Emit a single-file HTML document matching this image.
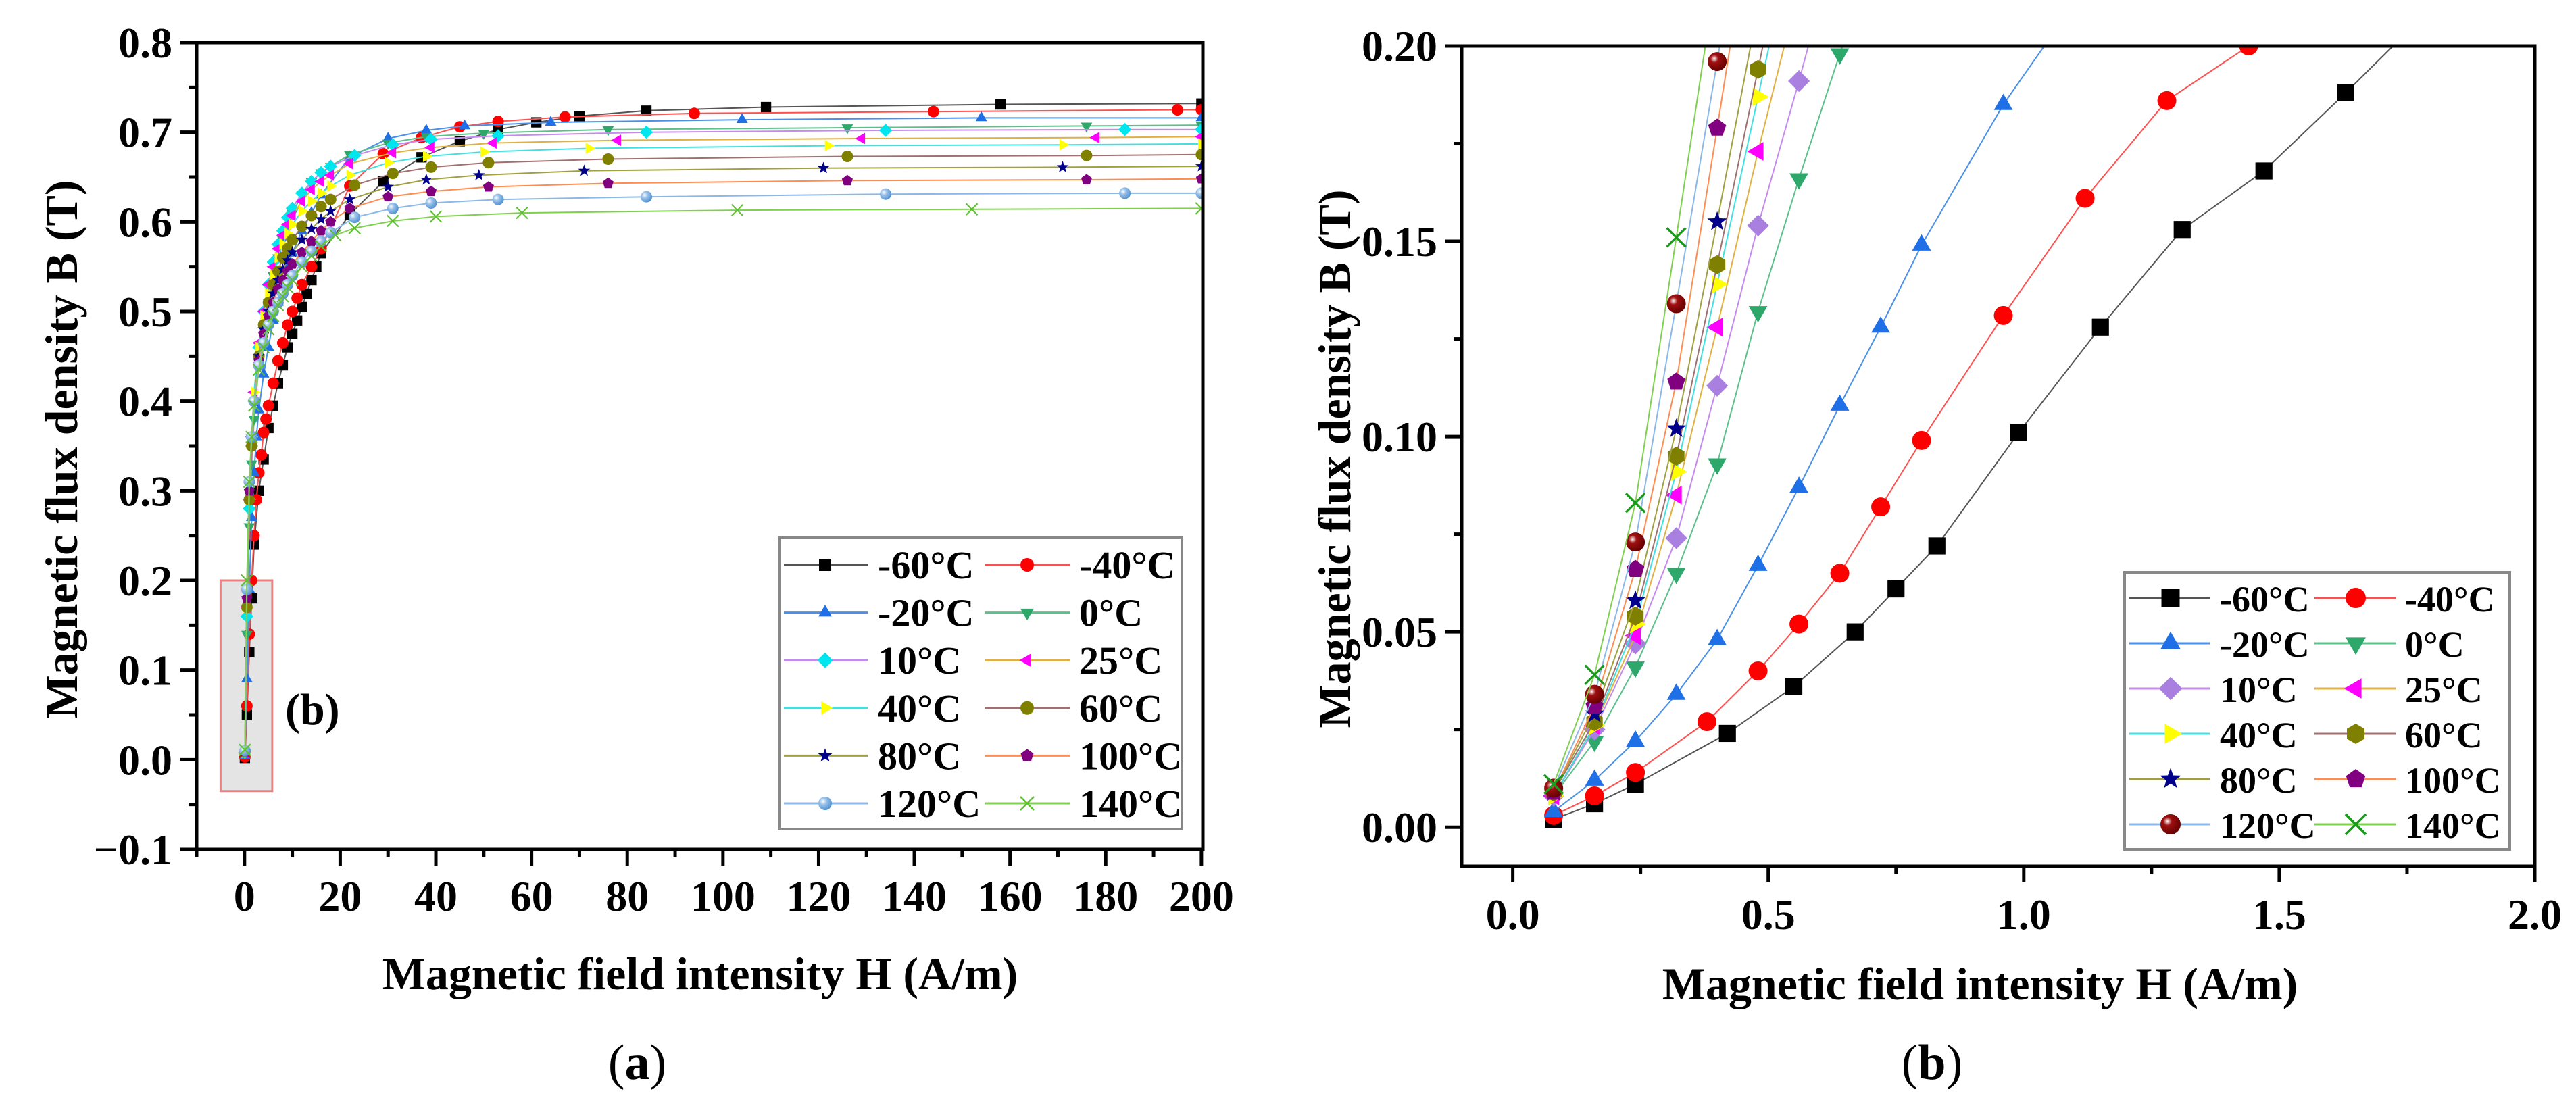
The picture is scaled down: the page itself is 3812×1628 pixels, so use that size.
<!DOCTYPE html>
<html><head><meta charset="utf-8">
<style>
html,body{margin:0;padding:0;background:#fff;}
svg{display:block;font-family:"Liberation Serif",serif;}
svg text{font-family:"Liberation Serif",serif;}
</style></head>
<body>
<svg id="fig" width="3812" height="1628" viewBox="0 0 3812 1628" xmlns="http://www.w3.org/2000/svg" font-family="Liberation Serif, serif">
<defs>
<clipPath id="clipA"><rect x="291" y="63" width="1489" height="1194"/></clipPath>
<clipPath id="clipB"><rect x="2163" y="68" width="1588" height="1214"/></clipPath>
<radialGradient id="sphA" cx="0.35" cy="0.35" r="0.7"><stop offset="0" stop-color="#fff"/><stop offset="0.35" stop-color="#9cc3ea"/><stop offset="1" stop-color="#4f8fd0"/></radialGradient>
<radialGradient id="sphB" cx="0.35" cy="0.35" r="0.7"><stop offset="0" stop-color="#fff"/><stop offset="0.3" stop-color="#a01010"/><stop offset="1" stop-color="#600000"/></radialGradient>
</defs>
<g id="chartA"></g>
<g id="chartB"></g>
<text x="943" y="1597" font-size="74" text-anchor="middle">(<tspan font-weight="bold">a</tspan>)</text>
<text x="2859" y="1597" font-size="74" text-anchor="middle">(<tspan font-weight="bold">b</tspan>)</text>
</svg>
<script>
// ---------- data ----------
const seriesNames = ["-60°C","-40°C","-20°C","0°C","10°C","25°C","40°C","60°C","80°C","100°C","120°C","140°C"];
// Panel (a)
const hA_m60 = [0.08,0.5,1,1.5,2,3,4,5,6,7,8,9,10,11,12,13,14,15,16,22,29,37,45,53,61,70,84,109,158,200];
const bA_m60 = [0.002,0.05,0.12,0.18,0.24,0.30,0.335,0.37,0.395,0.42,0.44,0.46,0.475,0.49,0.505,0.52,0.535,0.55,0.565,0.608,0.645,0.672,0.69,0.703,0.711,0.718,0.724,0.728,0.731,0.732];
const hA_m40 = [0.08,0.5,1,1.5,2,2.5,3,3.5,4,4.5,5,6,7,8,9,10,11,12,14,16,22,29,37,45,53,67,94,144,195,200];
const bA_m40 = [0.003,0.06,0.14,0.2,0.25,0.29,0.32,0.34,0.365,0.38,0.395,0.42,0.445,0.465,0.485,0.5,0.515,0.53,0.55,0.57,0.64,0.676,0.694,0.706,0.712,0.717,0.721,0.723,0.725,0.725];
const hA_m20 = [0.08,0.5,1,1.5,2,2.5,3,4,5,6,7,8,9,10,12,14,16,22,30,38,46,64,104,154,200];
const bA_m20 = [0.004,0.09,0.19,0.27,0.32,0.36,0.39,0.43,0.46,0.49,0.51,0.53,0.55,0.565,0.59,0.61,0.63,0.672,0.693,0.702,0.707,0.711,0.714,0.716,0.716];
const hA_0 = [0.08,0.5,1,1.5,2,3,4,5,6,7,8,9,10,12,14,16,18,22,30,38,50,76,126,176,200];
const bA_0 = [0.008,0.14,0.26,0.33,0.38,0.44,0.48,0.51,0.54,0.56,0.58,0.595,0.61,0.63,0.645,0.655,0.662,0.675,0.688,0.695,0.699,0.703,0.705,0.707,0.708];
const hA_10 = [0.08,0.5,1,1.5,2,3,4,5,6,7,8,9,10,12,14,16,18,23,31,39,53,84,134,184,200];
const bA_10 = [0.008,0.16,0.28,0.35,0.40,0.46,0.50,0.53,0.555,0.575,0.59,0.605,0.615,0.632,0.645,0.655,0.662,0.674,0.686,0.692,0.696,0.700,0.702,0.703,0.703];
const hA_25 = [0.08,0.5,1,1.5,2,3,4,5,6,7,8,9,10,12,14,16,18,22,31,39,52,78,129,178,200];
const bA_25 = [0.008,0.17,0.29,0.36,0.41,0.465,0.50,0.53,0.55,0.57,0.585,0.597,0.607,0.623,0.636,0.645,0.652,0.665,0.677,0.683,0.688,0.691,0.693,0.694,0.695];
const hA_40 = [0.08,0.5,1,1.5,2,3,4,5,6,7,8,9,10,12,14,16,18,22,30,38,50,72,122,171,200];
const bA_40 = [0.008,0.17,0.29,0.36,0.41,0.46,0.495,0.52,0.54,0.56,0.575,0.587,0.597,0.612,0.623,0.632,0.64,0.652,0.666,0.673,0.678,0.682,0.685,0.686,0.687];
const hA_60 = [0.08,0.5,1,1.5,2,3,4,5,6,7,8,9,10,12,14,16,18,23,31,39,51,76,126,176,200];
const bA_60 = [0.009,0.17,0.29,0.35,0.40,0.45,0.485,0.51,0.53,0.545,0.56,0.57,0.58,0.595,0.607,0.617,0.625,0.641,0.654,0.661,0.666,0.67,0.673,0.674,0.675];
const hA_80 = [0.08,0.5,1,1.5,2,3,4,5,6,7,8,9,10,12,14,16,18,22,30,38,49,71,121,171,200];
const bA_80 = [0.009,0.18,0.3,0.36,0.40,0.45,0.48,0.50,0.52,0.535,0.547,0.557,0.566,0.58,0.592,0.603,0.612,0.625,0.639,0.647,0.652,0.657,0.66,0.661,0.662];
const hA_100 = [0.08,0.5,1,1.5,2,3,4,5,6,7,8,9,10,12,14,16,18,22,30,39,51,76,126,176,200];
const bA_100 = [0.009,0.18,0.3,0.36,0.40,0.445,0.475,0.495,0.51,0.525,0.535,0.545,0.553,0.566,0.578,0.59,0.6,0.615,0.628,0.634,0.639,0.643,0.646,0.647,0.648];
const hA_120 = [0.08,0.5,1,1.5,2,3,4,5,6,7,8,9,10,12,14,16,18,23,31,39,53,84,134,184,200];
const bA_120 = [0.01,0.19,0.31,0.36,0.40,0.44,0.465,0.485,0.5,0.51,0.52,0.53,0.54,0.555,0.567,0.578,0.588,0.605,0.615,0.621,0.625,0.628,0.631,0.632,0.632];
const hA_140 = [0.08,0.5,1,1.5,2,3,4,5,6,7,8,9,10,12,14,16,19,23,31,40,58,103,152,200];
const bA_140 = [0.011,0.2,0.31,0.36,0.395,0.435,0.46,0.48,0.495,0.507,0.517,0.527,0.535,0.55,0.562,0.573,0.585,0.593,0.601,0.606,0.61,0.613,0.614,0.615];
// Panel (b)
const hB_m60 = [0.08,0.16,0.24,0.42,0.55,0.67,0.75,0.83,0.99,1.15,1.31,1.47,1.63,1.8];
const bB_m60 = [0.002,0.006,0.011,0.024,0.036,0.050,0.061,0.072,0.101,0.128,0.153,0.168,0.188,0.21];
const hB_m40 = [0.08,0.16,0.24,0.38,0.48,0.56,0.64,0.72,0.80,0.96,1.12,1.28,1.44,1.6];
const bB_m40 = [0.003,0.008,0.014,0.027,0.040,0.052,0.065,0.082,0.099,0.131,0.161,0.186,0.200,0.22];
const hB_m20 = [0.08,0.16,0.24,0.32,0.40,0.48,0.56,0.64,0.72,0.80,0.96,1.12];
const bB_m20 = [0.004,0.012,0.022,0.034,0.048,0.067,0.087,0.108,0.128,0.149,0.185,0.215];
const hB_0 = [0.08,0.16,0.24,0.32,0.40,0.48,0.56,0.64,0.72];
const bB_0 = [0.008,0.022,0.041,0.065,0.093,0.132,0.166,0.198,0.23];
const hB_10 = [0.08,0.16,0.24,0.32,0.40,0.48,0.56,0.64];
const bB_10 = [0.008,0.025,0.047,0.074,0.113,0.154,0.191,0.23];
const hB_25 = [0.08,0.16,0.24,0.32,0.40,0.48,0.56];
const bB_25 = [0.008,0.026,0.049,0.085,0.128,0.173,0.215];
const hB_40 = [0.08,0.16,0.24,0.32,0.40,0.48,0.56];
const bB_40 = [0.008,0.026,0.052,0.091,0.139,0.187,0.235];
const hB_60 = [0.08,0.16,0.24,0.32,0.40,0.48,0.56];
const bB_60 = [0.009,0.027,0.054,0.095,0.144,0.194,0.245];
const hB_80 = [0.08,0.16,0.24,0.32,0.40,0.48];
const bB_80 = [0.009,0.029,0.058,0.102,0.155,0.21];
const hB_100 = [0.08,0.16,0.24,0.32,0.40,0.48];
const bB_100 = [0.009,0.031,0.066,0.114,0.179,0.245];
const hB_120 = [0.08,0.16,0.24,0.32,0.40,0.48];
const bB_120 = [0.010,0.034,0.073,0.134,0.196,0.26];
const hB_140 = [0.08,0.16,0.24,0.32,0.40];
const bB_140 = [0.011,0.039,0.083,0.151,0.22];
// ticks
const xTicksA = [0,20,40,60,80,100,120,140,160,180,200];
const yTicksA = [-0.1,0.0,0.1,0.2,0.3,0.4,0.5,0.6,0.7,0.8];
const yTickLabelsA = ["\u22120.1","0.0","0.1","0.2","0.3","0.4","0.5","0.6","0.7","0.8"];
const xTicksB = [0.0,0.5,1.0,1.5,2.0];
const xTickLabelsB = ["0.0","0.5","1.0","1.5","2.0"];
const yTicksB = [0.00,0.05,0.10,0.15,0.20];
const yTickLabelsB = ["0.00","0.05","0.10","0.15","0.20"];

// ---------- styles ----------
const lineCols = ["#555","#ff5050","#4a90e8","#5cc08a","#c58af0","#e0b040","#40e0e0","#a07070","#a0a040","#ff8c50","#8ab8e8","#80d050"];
const markA = [["sq","#000"],["ci","#f00"],["tu","#1f6fe6"],["td","#2ea86a"],["di","#00e5ee"],["tl","#f0f"],["tr","#ff0"],["ci","#808000"],["st","#00008b"],["pe","#800080"],["sp","url(#sphA)"],["x","#5cc030"]];
const markB = [["sq","#000"],["ci","#f00"],["tu","#1f6fe6"],["td","#2ea86a"],["di","#a97fe0"],["tl","#f0f"],["tr","#ff0"],["hx","#808000"],["st","#00008b"],["pe","#800080"],["sp","url(#sphB)"],["x","#1a9a1a"]];

const NS="http://www.w3.org/2000/svg";
const FF="Liberation Serif, serif";
function mk(tag, attrs, parent){
  const e=document.createElementNS(NS,tag);
  for(const k in attrs) e.setAttribute(k,attrs[k]);
  parent.appendChild(e); return e;
}
function poly(n,r,rot){let p=[];for(let i=0;i<n;i++){const a=rot+i*2*Math.PI/n;p.push([Math.cos(a)*r,Math.sin(a)*r]);}return p;}
function marker(g,type,fill,cx,cy,s){
  const r=s/2; let e;
  const P=(pts)=>pts.map(p=>(cx+p[0]).toFixed(1)+","+(cy+p[1]).toFixed(1)).join(" ");
  if(type==="sq") e=mk("rect",{x:cx-r*0.9,y:cy-r*0.9,width:r*1.8,height:r*1.8,fill:fill},g);
  else if(type==="ci"||type==="sp") e=mk("circle",{cx:cx,cy:cy,r:r,fill:fill},g);
  else if(type==="tu") e=mk("polygon",{points:P(poly(3,r*1.15,-Math.PI/2)),fill:fill},g);
  else if(type==="td") e=mk("polygon",{points:P(poly(3,r*1.15,Math.PI/2)),fill:fill},g);
  else if(type==="tl") e=mk("polygon",{points:P(poly(3,r*1.15,Math.PI)),fill:fill},g);
  else if(type==="tr") e=mk("polygon",{points:P(poly(3,r*1.15,0)),fill:fill},g);
  else if(type==="di") e=mk("polygon",{points:P(poly(4,r*1.15,0)),fill:fill},g);
  else if(type==="hx") e=mk("polygon",{points:P(poly(6,r,-Math.PI/2)),fill:fill},g);
  else if(type==="pe") e=mk("polygon",{points:P(poly(5,r,-Math.PI/2)),fill:fill},g);
  else if(type==="st"){let pts=[];for(let i=0;i<10;i++){const a=-Math.PI/2+i*Math.PI/5;const rr=i%2?r*0.45:r*1.1;pts.push([Math.cos(a)*rr,Math.sin(a)*rr]);}e=mk("polygon",{points:P(pts),fill:fill},g);}
  else if(type==="x") e=mk("path",{d:`M${cx-r} ${cy-r}L${cx+r} ${cy+r}M${cx-r} ${cy+r}L${cx+r} ${cy-r}`,stroke:fill,"stroke-width":Math.max(2,s*0.12),fill:"none"},g);
  
  
  return e;
}

function drawChart(cfg){
  const root=document.getElementById(cfg.id);
  const X=v=>cfg.px0+(v-cfg.x0)/(cfg.x1-cfg.x0)*(cfg.px1-cfg.px0);
  const Y=v=>cfg.py0-(v-cfg.y0)/(cfg.y1-cfg.y0)*(cfg.py0-cfg.py1);
  const L=cfg.px0,R=cfg.px1,T=cfg.py1,B=cfg.py0;
  if(cfg.extra) cfg.extra(root,X,Y);
  const sg=mk("g",{"clip-path":`url(#${cfg.clip})`},root);
  
  
  cfg.series.forEach((s,i)=>{
    const g=mk("g",{},sg);
    
    
    const pl=mk("polyline",{points:s[0].map((h,j)=>X(h).toFixed(1)+","+Y(s[1][j]).toFixed(1)).join(" "),fill:"none",stroke:lineCols[i],"stroke-width":cfg.lw},g);
    
    
    const mt=cfg.marks[i];
    s[0].forEach((h,j)=>marker(g,mt[0],mt[1],X(h),Y(s[1][j]),cfg.ms));
  });
  const fr=mk("rect",{x:L,y:T,width:R-L,height:B-T,fill:"none",stroke:"#000","stroke-width":5},root);
  
  
  const tg=mk("g",{stroke:"#000","stroke-width":5},root);
  
  
  cfg.xMinor.forEach(v=>mk("line",{x1:X(v),x2:X(v),y1:B,y2:B+12},tg));
  cfg.xTicks.forEach(v=>mk("line",{x1:X(v),x2:X(v),y1:B,y2:B+24},tg));
  cfg.yMinor.forEach(v=>mk("line",{x1:L,x2:L-12,y1:Y(v),y2:Y(v)},tg));
  cfg.yTicks.forEach(v=>mk("line",{x1:L,x2:L-24,y1:Y(v),y2:Y(v)},tg));
  cfg.xTicks.forEach((v,i)=>{const t=mk("text",{x:X(v),y:cfg.xLabY,"font-size":64,"font-weight":"bold","text-anchor":"middle","font-family":FF},root);t.textContent=cfg.xLabels[i];
    
    });
  cfg.yTicks.forEach((v,i)=>{const t=mk("text",{x:L-36,y:Y(v)+22,"font-size":64,"font-weight":"bold","text-anchor":"end","font-family":FF},root);t.textContent=cfg.yLabels[i];
    
    });
  const xt=mk("text",{x:cfg.xTitleX,y:cfg.xTitleY,"font-size":68,"font-weight":"bold","text-anchor":"middle","font-family":FF},root);
  xt.textContent="Magnetic field intensity H (A/m)";
  
  
  const yt=mk("text",{x:0,y:0,"font-size":68,"font-weight":"bold","text-anchor":"middle","font-family":FF,transform:`translate(${cfg.yTitleX},${cfg.yTitleY}) rotate(-90)`},root);
  yt.textContent="Magnetic flux density B (T)";
  
  
  const lg=cfg.leg;
  const lgG=mk("g",{},root);
  
  
  mk("rect",{x:lg.x,y:lg.y,width:lg.w,height:lg.h,fill:"#fff",stroke:"#888","stroke-width":4},lgG);
  seriesNames.forEach((n,i)=>{
    const col=i%2,row=Math.floor(i/2);
    const cy=lg.row0+row*lg.dy;
    const c=lg.cols[col];
    const eg=mk("g",{},lgG);
    
    
    mk("line",{x1:c[0],x2:c[1],y1:cy,y2:cy,stroke:lineCols[i],"stroke-width":lg.lw},eg);
    marker(eg,cfg.marks[i][0],cfg.marks[i][1],c[2],cy,lg.ms);
    const t=mk("text",{x:c[3],y:cy+20,"font-size":lg.fs,"font-weight":"bold","font-family":FF},eg);
    t.textContent=n;
  });
}

drawChart({id:"chartA",clip:"clipA",x0:-10,x1:200.3,px0:291,px1:1780,y0:-0.1,y1:0.8,py0:1257,py1:63,
  series:[[hA_m60,bA_m60],[hA_m40,bA_m40],[hA_m20,bA_m20],[hA_0,bA_0],[hA_10,bA_10],[hA_25,bA_25],[hA_40,bA_40],[hA_60,bA_60],[hA_80,bA_80],[hA_100,bA_100],[hA_120,bA_120],[hA_140,bA_140]],
  marks:markA,lw:2,ms:17,
  xTicks:xTicksA,xLabels:xTicksA.map(String),xMinor:[-10,10,30,50,70,90,110,130,150,170,190],
  yTicks:yTicksA,yLabels:yTickLabelsA,yMinor:[-0.05,0.05,0.15,0.25,0.35,0.45,0.55,0.65,0.75],
  xLabY:1348,xTitleX:1036,xTitleY:1464,yTitleX:114,yTitleY:665,
  leg:{x:1153,y:795,w:596,h:432,row0:836,dy:70.6,lw:3,ms:20,fs:58,cols:[[1160,1284,1221,1299],[1457,1583,1520,1597]]},
  extra:(root,X,Y)=>{
    const r=mk("rect",{x:X(-5),y:Y(0.2),width:X(5.8)-X(-5),height:Y(-0.035)-Y(0.2),fill:"#e4e4e4",stroke:"#f08080","stroke-width":3},root);
    
    
    const t=mk("text",{x:422,y:1072,"font-size":66,"font-weight":"bold","font-family":FF},root);
    t.textContent="(b)";
    
    
  }
});
drawChart({id:"chartB",clip:"clipB",x0:-0.1,x1:2.0,px0:2163,px1:3751,y0:-0.01,y1:0.20,py0:1282,py1:68,
  series:[[hB_m60,bB_m60],[hB_m40,bB_m40],[hB_m20,bB_m20],[hB_0,bB_0],[hB_10,bB_10],[hB_25,bB_25],[hB_40,bB_40],[hB_60,bB_60],[hB_80,bB_80],[hB_100,bB_100],[hB_120,bB_120],[hB_140,bB_140]],
  marks:markB,lw:2,ms:28,
  xTicks:xTicksB,xLabels:xTickLabelsB,xMinor:[0.25,0.75,1.25,1.75],
  yTicks:yTicksB,yLabels:yTickLabelsB,yMinor:[0.025,0.075,0.125,0.175],
  xLabY:1375,xTitleX:2930,xTitleY:1479,yTitleX:1998,yTitleY:679,
  leg:{x:3144,y:847,w:570,h:410,row0:885,dy:67,lw:3,ms:30,fs:54,cols:[[3151,3270,3212,3285],[3425,3546,3486,3559]]}
});
</script>
</body></html>
